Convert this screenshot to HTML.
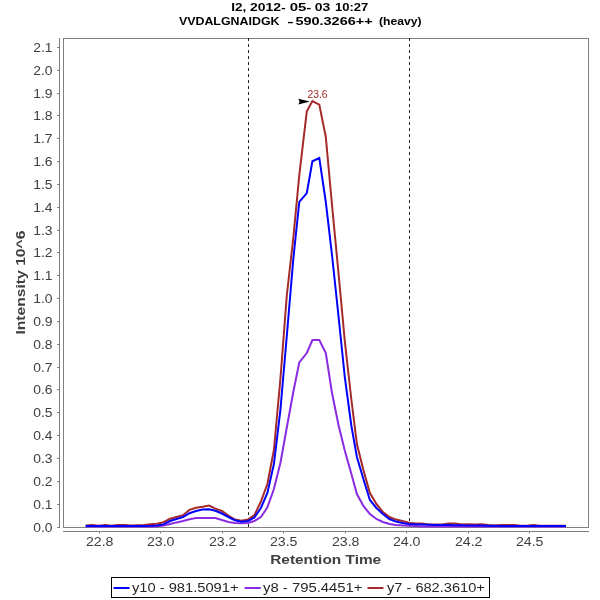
<!DOCTYPE html>
<html><head><meta charset="utf-8"><title>chart</title>
<style>
html,body{margin:0;padding:0;background:#fff;}
body{width:600px;height:600px;overflow:hidden;font-family:"Liberation Sans",sans-serif;}
svg{display:block;will-change:transform;}
svg text{font-family:"Liberation Sans",sans-serif;}
.ttl{font-weight:bold;font-size:11.3px;fill:#000;}
.tick{font-size:12px;fill:#404040;}
.axl{font-weight:bold;font-size:12.2px;fill:#404040;}
.leg{font-size:12px;fill:#262626;}
</style></head><body>
<svg width="600" height="600" viewBox="0 0 600 600">
<rect width="600" height="600" fill="#fff"/>
<g class="ttl">
<text x="231.3" y="11.2" textLength="15" lengthAdjust="spacingAndGlyphs">I2,</text>
<text x="250" y="11.2" textLength="35.6" lengthAdjust="spacingAndGlyphs">2012-</text>
<text x="289.7" y="11.2" textLength="21.6" lengthAdjust="spacingAndGlyphs">05-</text>
<text x="314.7" y="11.2" textLength="15.5" lengthAdjust="spacingAndGlyphs">03</text>
<text x="335" y="11.2" textLength="33.3" lengthAdjust="spacingAndGlyphs">10:27</text>
<text x="178.9" y="25.2" textLength="100.6" lengthAdjust="spacingAndGlyphs">VVDALGNAIDGK</text>
<text x="287.2" y="25.2" textLength="6.4" lengthAdjust="spacingAndGlyphs">-</text>
<text x="295.4" y="25.2" textLength="77.3" lengthAdjust="spacingAndGlyphs">590.3266++</text>
<text x="379" y="25.2" textLength="42.6" lengthAdjust="spacingAndGlyphs">(heavy)</text>
</g>
<rect x="63.5" y="38.5" width="525" height="489" fill="#fff" stroke="#808080" stroke-width="1"/>
<g stroke="#808080" stroke-width="1" fill="none">
<line x1="59.5" y1="38" x2="59.5" y2="528"/>
<line x1="63" y1="531.5" x2="589" y2="531.5"/>
<line x1="57" y1="527.50" x2="59.5" y2="527.50"/><line x1="57" y1="504.50" x2="59.5" y2="504.50"/><line x1="57" y1="481.50" x2="59.5" y2="481.50"/><line x1="57" y1="458.50" x2="59.5" y2="458.50"/><line x1="57" y1="435.50" x2="59.5" y2="435.50"/><line x1="57" y1="412.50" x2="59.5" y2="412.50"/><line x1="57" y1="389.50" x2="59.5" y2="389.50"/><line x1="57" y1="367.50" x2="59.5" y2="367.50"/><line x1="57" y1="344.50" x2="59.5" y2="344.50"/><line x1="57" y1="321.50" x2="59.5" y2="321.50"/><line x1="57" y1="298.50" x2="59.5" y2="298.50"/><line x1="57" y1="275.50" x2="59.5" y2="275.50"/><line x1="57" y1="252.50" x2="59.5" y2="252.50"/><line x1="57" y1="230.50" x2="59.5" y2="230.50"/><line x1="57" y1="207.50" x2="59.5" y2="207.50"/><line x1="57" y1="184.50" x2="59.5" y2="184.50"/><line x1="57" y1="161.50" x2="59.5" y2="161.50"/><line x1="57" y1="138.50" x2="59.5" y2="138.50"/><line x1="57" y1="115.50" x2="59.5" y2="115.50"/><line x1="57" y1="93.50" x2="59.5" y2="93.50"/><line x1="57" y1="70.50" x2="59.5" y2="70.50"/><line x1="57" y1="47.50" x2="59.5" y2="47.50"/>
<line x1="99.50" y1="531.5" x2="99.50" y2="533.5"/><line x1="160.50" y1="531.5" x2="160.50" y2="533.5"/><line x1="222.50" y1="531.5" x2="222.50" y2="533.5"/><line x1="283.50" y1="531.5" x2="283.50" y2="533.5"/><line x1="345.50" y1="531.5" x2="345.50" y2="533.5"/><line x1="406.50" y1="531.5" x2="406.50" y2="533.5"/><line x1="468.50" y1="531.5" x2="468.50" y2="533.5"/><line x1="529.50" y1="531.5" x2="529.50" y2="533.5"/>
</g>
<g class="tick"><text x="33.2" y="531.9" textLength="19.3" lengthAdjust="spacingAndGlyphs">0.0</text><text x="33.2" y="508.9" textLength="19.3" lengthAdjust="spacingAndGlyphs">0.1</text><text x="33.2" y="485.9" textLength="19.3" lengthAdjust="spacingAndGlyphs">0.2</text><text x="33.2" y="462.9" textLength="19.3" lengthAdjust="spacingAndGlyphs">0.3</text><text x="33.2" y="439.9" textLength="19.3" lengthAdjust="spacingAndGlyphs">0.4</text><text x="33.2" y="416.9" textLength="19.3" lengthAdjust="spacingAndGlyphs">0.5</text><text x="33.2" y="393.9" textLength="19.3" lengthAdjust="spacingAndGlyphs">0.6</text><text x="33.2" y="371.9" textLength="19.3" lengthAdjust="spacingAndGlyphs">0.7</text><text x="33.2" y="348.9" textLength="19.3" lengthAdjust="spacingAndGlyphs">0.8</text><text x="33.2" y="325.9" textLength="19.3" lengthAdjust="spacingAndGlyphs">0.9</text><text x="33.2" y="302.9" textLength="19.3" lengthAdjust="spacingAndGlyphs">1.0</text><text x="33.2" y="279.9" textLength="19.3" lengthAdjust="spacingAndGlyphs">1.1</text><text x="33.2" y="256.9" textLength="19.3" lengthAdjust="spacingAndGlyphs">1.2</text><text x="33.2" y="234.9" textLength="19.3" lengthAdjust="spacingAndGlyphs">1.3</text><text x="33.2" y="211.9" textLength="19.3" lengthAdjust="spacingAndGlyphs">1.4</text><text x="33.2" y="188.9" textLength="19.3" lengthAdjust="spacingAndGlyphs">1.5</text><text x="33.2" y="165.9" textLength="19.3" lengthAdjust="spacingAndGlyphs">1.6</text><text x="33.2" y="142.9" textLength="19.3" lengthAdjust="spacingAndGlyphs">1.7</text><text x="33.2" y="119.9" textLength="19.3" lengthAdjust="spacingAndGlyphs">1.8</text><text x="33.2" y="97.9" textLength="19.3" lengthAdjust="spacingAndGlyphs">1.9</text><text x="33.2" y="74.9" textLength="19.3" lengthAdjust="spacingAndGlyphs">2.0</text><text x="33.2" y="51.9" textLength="19.3" lengthAdjust="spacingAndGlyphs">2.1</text></g>
<g class="tick"><text x="85.9" y="546" textLength="27.6" lengthAdjust="spacingAndGlyphs">22.8</text><text x="146.9" y="546" textLength="27.6" lengthAdjust="spacingAndGlyphs">23.0</text><text x="208.9" y="546" textLength="27.6" lengthAdjust="spacingAndGlyphs">23.2</text><text x="269.9" y="546" textLength="27.6" lengthAdjust="spacingAndGlyphs">23.5</text><text x="331.9" y="546" textLength="27.6" lengthAdjust="spacingAndGlyphs">23.8</text><text x="392.9" y="546" textLength="27.6" lengthAdjust="spacingAndGlyphs">24.0</text><text x="454.9" y="546" textLength="27.6" lengthAdjust="spacingAndGlyphs">24.2</text><text x="515.9" y="546" textLength="27.6" lengthAdjust="spacingAndGlyphs">24.5</text></g>
<text class="axl" transform="translate(25.2,334.6) rotate(-90)" textLength="104" lengthAdjust="spacingAndGlyphs">Intensity 10^6</text>
<text class="axl" x="270.2" y="564.3" textLength="111" lengthAdjust="spacingAndGlyphs">Retention Time</text>
<g stroke="#111" stroke-width="1" stroke-dasharray="2.7,3.3" fill="none">
<line x1="248.5" y1="38.2" x2="248.5" y2="527"/>
<line x1="409.5" y1="38.2" x2="409.5" y2="527"/>
</g>
<g fill="none" stroke-width="2" stroke-linejoin="miter">
<polyline stroke="#8a2be2" points="85.7,526.4 92.1,526.4 98.6,526.4 105.1,526.4 111.6,526.4 118.1,526.4 124.6,526.4 131.1,526.4 137.6,526.4 144.1,526.4 150.6,526.4 157.0,526.2 163.5,525.6 170.0,524.0 176.5,522.4 183.0,521.0 189.5,519.2 196.0,518.1 202.5,518.0 209.0,518.0 215.4,518.1 221.9,520.0 228.4,522.0 234.9,523.0 241.4,523.3 247.9,522.9 254.4,521.0 260.9,517.0 267.4,507.4 273.9,489.0 280.4,463.0 286.8,427.5 293.3,392.0 299.3,362.4 306.8,353.0 312.4,340.0 319.3,340.0 325.8,353.0 332.0,393.0 338.5,425.0 344.9,451.0 351.4,474.0 356.9,494.0 363.4,506.0 369.9,514.0 376.4,519.0 382.9,522.0 389.4,524.0 395.9,525.0 402.4,525.4 409.0,525.8 415.6,526.1 422.2,526.4 428.8,526.4 435.4,526.4 442.0,526.4 448.6,526.4 455.2,526.4 461.8,526.4 468.4,526.4 475.1,526.4 481.5,526.4 488.0,526.4 494.5,526.4 501.0,526.4 507.5,526.4 514.0,526.4 520.5,526.4 527.0,526.4 533.5,526.4 540.0,526.4 546.4,526.4 552.9,526.4 559.4,526.4 565.9,526.4"/>
<polyline stroke="#a52a2a" points="85.7,525.5 92.1,525.0 98.6,525.8 105.1,525.1 111.6,525.8 118.1,525.1 124.6,525.1 131.1,525.4 137.6,525.2 144.1,524.9 150.6,524.2 157.0,523.8 163.5,522.2 170.0,518.8 176.5,517.0 183.0,515.2 189.5,509.9 196.0,507.8 202.5,506.8 209.0,505.6 215.4,508.6 221.9,511.0 228.4,515.6 234.9,519.5 241.4,520.8 247.9,519.6 254.4,515.2 260.9,501.5 267.4,484.0 273.9,450.0 280.4,379.0 286.8,295.5 293.3,238.0 299.3,175.0 306.8,111.3 312.4,101.0 319.3,104.6 325.8,137.0 332.0,205.0 338.5,273.0 344.9,342.0 351.4,400.0 356.9,444.0 363.4,470.0 369.9,493.0 376.4,504.0 382.9,512.0 389.4,517.0 395.9,519.6 402.4,521.0 409.0,522.7 415.6,523.5 422.2,523.6 428.8,524.5 435.4,524.6 442.0,524.4 448.6,523.5 455.2,523.6 461.8,524.5 468.4,524.3 475.1,524.5 481.5,524.3 488.0,525.0 494.5,525.4 501.0,525.0 507.5,524.9 514.0,525.0 520.5,525.7 527.0,525.7 533.5,524.9 540.0,525.7 546.4,525.7 552.9,525.7 559.4,525.7 565.9,525.7"/>
<polyline stroke="#0000ff" points="85.7,526.0 92.1,526.0 98.6,526.0 105.1,526.0 111.6,526.0 118.1,526.0 124.6,526.0 131.1,526.0 137.6,526.0 144.1,526.0 150.6,525.8 157.0,525.4 163.5,524.4 170.0,521.0 176.5,519.0 183.0,517.0 189.5,513.2 196.0,511.0 202.5,509.6 209.0,509.2 215.4,510.8 221.9,513.5 228.4,517.0 234.9,520.2 241.4,521.7 247.9,521.0 254.4,517.6 260.9,508.0 267.4,493.0 273.9,464.0 280.4,410.0 286.8,336.0 293.3,259.0 299.3,201.8 306.8,193.1 312.4,161.3 319.3,158.0 325.8,202.0 332.0,255.0 338.5,316.0 344.9,378.0 351.4,426.0 356.9,457.0 363.4,479.0 369.9,500.0 376.4,508.0 382.9,514.0 389.4,519.0 395.9,521.6 402.4,523.0 409.0,523.9 415.6,524.3 422.2,524.5 428.8,524.7 435.4,524.9 442.0,525.0 448.6,525.1 455.2,525.2 461.8,525.3 468.4,525.4 475.1,525.5 481.5,525.6 488.0,525.7 494.5,525.8 501.0,525.9 507.5,526.0 514.0,526.0 520.5,526.0 527.0,526.0 533.5,526.0 540.0,526.0 546.4,526.0 552.9,526.0 559.4,526.0 565.9,526.0"/>
</g>
<path d="M298.3,98.8 L309.8,101.6 L298.3,104.6 L299.6,101.7 Z" fill="#000"/>
<text x="307.4" y="97.8" font-size="10.2" fill="#a52a2a" textLength="20.2" lengthAdjust="spacingAndGlyphs">23.6</text>
<rect x="111.5" y="577.5" width="378" height="20" fill="#fff" stroke="#000" stroke-width="1"/>
<g stroke-width="2">
<line x1="113.5" y1="588" x2="129.5" y2="588" stroke="#0000ff"/>
<line x1="244.7" y1="588" x2="260.7" y2="588" stroke="#8a2be2"/>
<line x1="367.5" y1="588" x2="383.5" y2="588" stroke="#a52a2a"/>
</g>
<g class="leg">
<text x="132" y="592" textLength="106.5" lengthAdjust="spacingAndGlyphs">y10 - 981.5091+</text>
<text x="263" y="592" textLength="99.5" lengthAdjust="spacingAndGlyphs">y8 - 795.4451+</text>
<text x="387" y="592" textLength="97.8" lengthAdjust="spacingAndGlyphs">y7 - 682.3610+</text>
</g>
</svg>
</body></html>
